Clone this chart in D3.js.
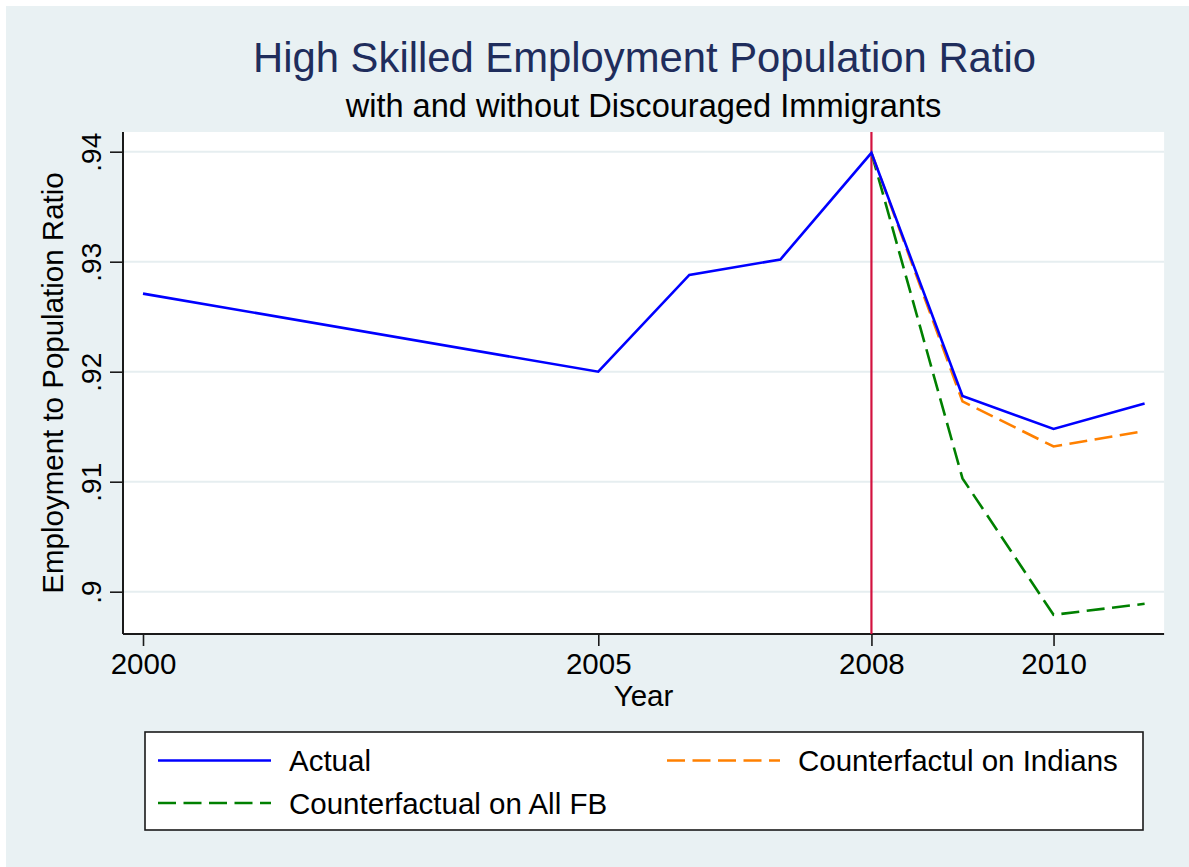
<!DOCTYPE html>
<html>
<head>
<meta charset="utf-8">
<script src="https://cdn.jsdelivr.net/npm/d3@7"></script>
<style>
  html, body { margin: 0; padding: 0; background: #ffffff; }
  svg { display: block; font-family: "Liberation Sans", Arial, Helvetica, sans-serif; }
</style>
</head>
<body>
<svg id="chart" width="1189" height="867"></svg>
<script>
// Employment-to-population ratio for high skilled workers
const years = [2000, 2005, 2006, 2007, 2008, 2009, 2010, 2011];
const actual = [0.9271, 0.9200, 0.9288, 0.9302, 0.9399, 0.9178, 0.9148, 0.9171];

const cfYears = [2008, 2009, 2010, 2011];
const cfIndians = [0.9399, 0.9173, 0.9132, 0.9146];
const cfAllFB = [0.9399, 0.9103, 0.8979, 0.8989];

const xTicks = [2000, 2005, 2008, 2010];
const yTicks = [0.90, 0.91, 0.92, 0.93, 0.94];
const yTickLabels = [".9", ".91", ".92", ".93", ".94"];
const policyYear = 2008;

const seriesNames = ["Actual", "Counterfactul on Indians", "Counterfactual on All FB"];
const seriesColors = ["#0000ff", "#ff8000", "#008000"];

const svg = d3.select("#chart");
const W = 1189, H = 867;

// graph region
svg.append("rect").attr("x", 0).attr("y", 0).attr("width", W).attr("height", H).attr("fill", "#ffffff");
svg.append("rect").attr("x", 6).attr("y", 6).attr("width", W - 6).attr("height", H - 6).attr("fill", "#e9f1f3");

// scales
const x = d3.scaleLinear().domain([2000, 2011]).range([143, 1144.6]);
const y = d3.scaleLinear().domain([0.90, 0.94]).range([591.7, 151.7]);

const plotLeft = x(2000) - 20, plotRight = x(2011) + 19.5;
const plotTop = y(0.94) - 19.7, plotBottom = y(0.90) + 42.3;

// plot region
svg.append("rect")
  .attr("x", plotLeft).attr("y", plotTop)
  .attr("width", plotRight - plotLeft).attr("height", plotBottom - plotTop)
  .attr("fill", "#ffffff");

// horizontal grid lines
svg.append("g").selectAll("line").data(yTicks).join("line")
  .attr("x1", plotLeft).attr("x2", plotRight)
  .attr("y1", d => y(d)).attr("y2", d => y(d))
  .attr("stroke", "#e6eef0").attr("stroke-width", 2);

// y axis
const yAxis = d3.axisLeft(y).tickValues(yTicks).tickSize(13)
  .tickFormat((d, i) => yTickLabels[i]);
const gy = svg.append("g").attr("transform", `translate(${plotLeft},0)`).call(yAxis);
gy.select(".domain").remove();
gy.selectAll(".tick line").attr("stroke", "#1a1a1a").attr("stroke-width", 1.6);
gy.selectAll(".tick text")
  .attr("x", 0).attr("y", 0).attr("dy", 0)
  .attr("transform", "translate(-22,0) rotate(-90)")
  .attr("text-anchor", "middle")
  .attr("fill", "#000").attr("font-size", 28)
  .style("font-family", "Liberation Sans, Arial, sans-serif");
svg.append("line")
  .attr("x1", plotLeft).attr("x2", plotLeft)
  .attr("y1", plotTop).attr("y2", plotBottom)
  .attr("stroke", "#1a1a1a").attr("stroke-width", 2);

// x axis
const xAxis = d3.axisBottom(x).tickValues(xTicks).tickSize(12).tickFormat(d3.format("d"));
const gx = svg.append("g").attr("transform", `translate(0,${plotBottom})`).call(xAxis);
gx.select(".domain").remove();
gx.selectAll(".tick line").attr("stroke", "#1a1a1a").attr("stroke-width", 1.6);
gx.selectAll(".tick text")
  .attr("y", 40).attr("dy", 0)
  .attr("fill", "#000").attr("font-size", 29.5)
  .style("font-family", "Liberation Sans, Arial, sans-serif");
svg.append("line")
  .attr("x1", plotLeft).attr("x2", plotRight)
  .attr("y1", plotBottom).attr("y2", plotBottom)
  .attr("stroke", "#1a1a1a").attr("stroke-width", 2);

// policy year marker
svg.append("line")
  .attr("x1", x(policyYear)).attr("x2", x(policyYear))
  .attr("y1", plotTop).attr("y2", plotBottom)
  .attr("stroke", "#d3123f").attr("stroke-width", 2.2);

// series lines
const line = d3.line().x(d => x(d[0])).y(d => y(d[1]));
const seriesData = [
  { pts: years.map((yr, i) => [yr, actual[i]]), dash: null },
  { pts: cfYears.map((yr, i) => [yr, cfIndians[i]]), dash: "18,7.5" },
  { pts: cfYears.map((yr, i) => [yr, cfAllFB[i]]), dash: "18,7.5" }
];
// draw counterfactuals under the actual line
[2, 1, 0].forEach(k => {
  svg.append("path")
    .attr("d", line(seriesData[k].pts))
    .attr("fill", "none")
    .attr("stroke", seriesColors[k])
    .attr("stroke-width", 2.6)
    .attr("stroke-linejoin", "miter")
    .attr("stroke-dasharray", seriesData[k].dash);
});

// axis titles
svg.append("text")
  .attr("transform", `translate(63,${(plotTop + plotBottom) / 2}) rotate(-90)`)
  .attr("text-anchor", "middle").attr("font-size", 29.5).attr("fill", "#000")
  .text("Employment to Population Ratio");
svg.append("text")
  .attr("x", (plotLeft + plotRight) / 2).attr("y", 706)
  .attr("text-anchor", "middle").attr("font-size", 29.5).attr("fill", "#000")
  .text("Year");

// titles
svg.append("text")
  .attr("x", 644.5).attr("y", 72)
  .attr("text-anchor", "middle").attr("font-size", 41.8).attr("fill", "#1f2d5c")
  .text("High Skilled Employment Population Ratio");
svg.append("text")
  .attr("x", 643.5).attr("y", 117)
  .attr("text-anchor", "middle").attr("font-size", 32.6).attr("fill", "#000")
  .text("with and without Discouraged Immigrants");

// legend
const lg = svg.append("g");
lg.append("rect")
  .attr("x", 145).attr("y", 732).attr("width", 998).attr("height", 98)
  .attr("fill", "#ffffff").attr("stroke", "#1a1a1a").attr("stroke-width", 1.6);
const legendItems = [
  { k: 0, x0: 158, row: 0 },
  { k: 1, x0: 667, row: 0 },
  { k: 2, x0: 158, row: 1 }
];
legendItems.forEach(it => {
  const cy = 760.5 + it.row * 42.5;
  lg.append("line")
    .attr("x1", it.x0).attr("x2", it.x0 + 113)
    .attr("y1", cy).attr("y2", cy)
    .attr("stroke", seriesColors[it.k]).attr("stroke-width", 2.6)
    .attr("stroke-dasharray", seriesData[it.k].dash);
  lg.append("text")
    .attr("x", it.x0 + 131).attr("y", cy + 10.5)
    .attr("font-size", 29.5).attr("fill", "#000")
    .text(seriesNames[it.k]);
});
</script>
</body>
</html>
